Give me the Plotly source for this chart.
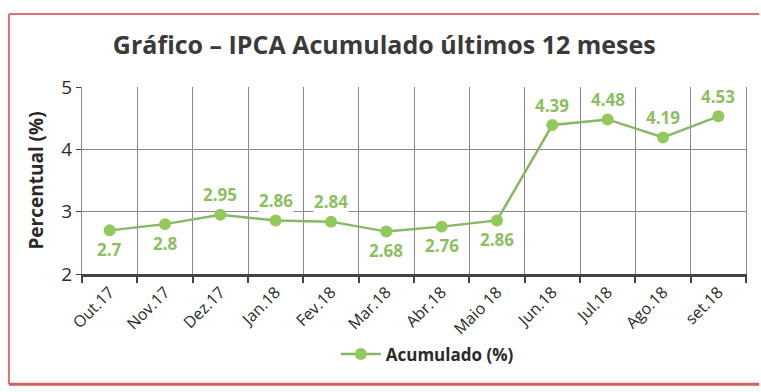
import plotly.graph_objects as go

months = ["Out.17", "Nov.17", "Dez.17", "Jan.18", "Fev.18", "Mar.18",
          "Abr.18", "Maio 18", "Jun.18", "Jul.18", "Ago.18", "set.18"]
ipca_acumulado = [2.7, 2.8, 2.95, 2.86, 2.84, 2.68, 2.76, 2.86, 4.39, 4.48, 4.19, 4.53]
label_side = ["below", "below", "above", "above", "above", "below",
              "below", "below", "above", "above", "above", "above"]
y_ticks = [2, 3, 4, 5]

FONT = "Open Sans"
LINE_GREEN = "#86b865"
DOT_GREEN = "#93c95a"
TEXT_GREEN = "#8cbf62"

fig = go.Figure()
fig.add_trace(go.Scatter(
    x=months, y=ipca_acumulado, mode="lines+markers", name="<b>Acumulado (%)</b>",
    line=dict(color=LINE_GREEN, width=2.5),
    marker=dict(color=DOT_GREEN, size=12, line=dict(width=0)),
))

for m, v, side in zip(months, ipca_acumulado, label_side):
    fig.add_annotation(
        x=m, y=v, text=f"<b>{v:g}</b>", showarrow=False,
        yshift=20 if side == "above" else -19,
        font=dict(family=FONT, size=17, color=TEXT_GREEN),
        bgcolor="white", borderpad=0,
    )

# outer frame of the card
fig.add_shape(type="line", xref="paper", yref="paper", x0=-0.11, x1=1.02, y0=1.39, y1=1.39,
              line=dict(color="#e07070", width=2))
fig.add_shape(type="line", xref="paper", yref="paper", x0=-0.11, x1=-0.11, y0=1.39, y1=-0.59,
              line=dict(color="#e07070", width=2))
fig.add_shape(type="line", xref="paper", yref="paper", x0=-0.11, x1=1.02, y0=-0.59, y1=-0.59,
              line=dict(color="#d06060", width=3))

fig.update_layout(
    width=761, height=392,
    margin=dict(l=82, r=15, t=87, b=118),
    paper_bgcolor="white", plot_bgcolor="white",
    font=dict(family=FONT, color="#333333"),
    title=dict(text="<b>Gráfico – IPCA Acumulado últimos 12 meses</b>",
               x=0.505, xanchor="center", y=0.885, yanchor="middle",
               font=dict(family=FONT, size=25, color="#3a3a3a")),
    showlegend=True,
    legend=dict(orientation="h", x=0.52, xanchor="center", y=-0.43, yanchor="middle",
                font=dict(family=FONT, size=17, color="#2a2a2a"), itemwidth=40),
)
fig.update_xaxes(
    type="category", tickson="boundaries", ticks="outside", ticklen=6,
    tickcolor="#444444", tickwidth=1.5,
    showgrid=True, gridcolor="#8a8a8a", gridwidth=1,
    showline=True, linecolor="#444444", linewidth=2.5,
    tickangle=-45, tickfont=dict(family=FONT, size=16, color="#2a2a2a"),
    range=[-0.5, 11.5],
)
fig.update_yaxes(
    range=[2, 5], tickvals=y_ticks, ticks="outside", ticklen=5, tickcolor="#444444",
    showgrid=True, gridcolor="#8a8a8a", gridwidth=1,
    showline=True, linecolor="#8a8a8a", linewidth=1, mirror=True,
    tickfont=dict(family=FONT, size=19, color="#2a2a2a"),
    title=dict(text="<b>Percentual (%)</b>", font=dict(family=FONT, size=19, color="#2a2a2a"),
               standoff=12),
    zeroline=False,
)

fig.write_html("out.html")
